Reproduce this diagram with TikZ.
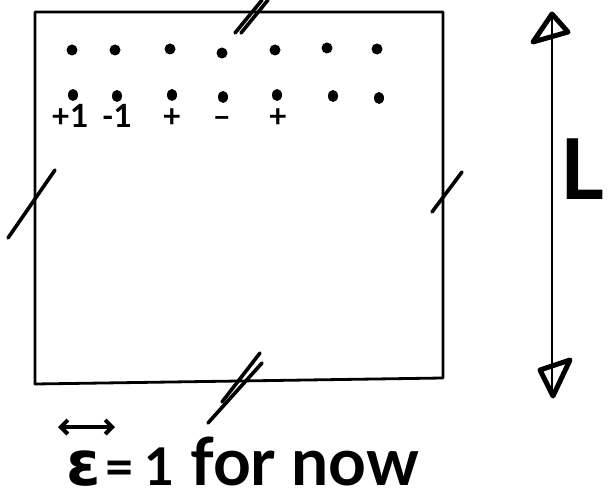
\documentclass[tikz,border=0pt]{standalone}
\usepackage{fontspec}
\usetikzlibrary{arrows.meta}
\setmainfont{Lato}
\newfontfamily\greekfont{DejaVu Sans}
\begin{document}
\begin{tikzpicture}[x=1pt,y=-1pt,
  pen/.style={line width=2.8pt,line cap=round,line join=round},
  tick/.style={line width=3.6pt,line cap=round},
  sign/.style={font=\bfseries\fontsize{32}{32}\selectfont,inner sep=0pt,anchor=base},
  hand/.style={inner sep=0pt,anchor=base west}]
\useasboundingbox (0,0) rectangle (615,502);

% the periodic box
\draw[pen] (35,12) -- (443,12) -- (443,378) -- (35,384) -- cycle;

% periodic-boundary tick marks
\draw[tick] (235,33) -- (262,0);
\draw[tick] (241,33) -- (268,0);
\draw[tick] (8,238) -- (55,170);
\draw[tick] (432,212) -- (462,172);
\draw[tick] (222,402) -- (260,353);
\draw[tick] (208,423) -- (262,363);

% two rows of sites
\foreach \x/\y [count=\i] in {72/50,115/50,170/49,222/53,275/50,327/48,377/49}
  \fill (\x,\y) ellipse (5.5pt and 5.5pt) coordinate (t\i);
\foreach \x/\y [count=\i] in {73/95,117/96,172/95,223/97,277/95,333/96,379/98}
  \fill (\x,\y) ellipse (5pt and 6pt) coordinate (b\i);

% spins written below the lower row
\node[sign] (s1) at (70,128) {+1};
\node[sign] (s2) at (117,128) {-1};
\node[sign] (s3) at (172,128) {+};
\node[sign] (s4) at (222,128) {–};
\node[sign] (s5) at (278,128) {+};

% length arrow
\coordinate (atop) at (552,14);
\coordinate (abot) at (552,394);
\draw[line width=2.6pt] (atop) -- (abot);
\draw[line width=5pt,line join=round,line cap=round] (533,42) -- (552,14) -- (568,32) -- cycle;
\draw[line width=5pt,line join=round,line cap=round] (540,370) -- (570,360) -- (553,396) -- cycle;
\node[hand,font=\bfseries\fontsize{84}{84}\selectfont] (L) at (560,200) {L};

% bottom note
\node[hand,font=\bfseries\fontsize{52}{52}\selectfont] (eps) at (66,485)
  {{\greekfont\fontsize{62}{62}\selectfont ε}\hspace{4pt}=\hspace{10pt}1};
\node[hand,font=\bfseries\fontsize{66}{66}\selectfont] (note) at (190,485) {for now};
\coordinate (ul) at (58,427);
\coordinate (ur) at (115,427);
\draw[line width=4pt,line cap=round,<->,>={Straight Barb[length=7pt,width=14pt]}] (ul) -- (ur);
\end{tikzpicture}
\end{document}
